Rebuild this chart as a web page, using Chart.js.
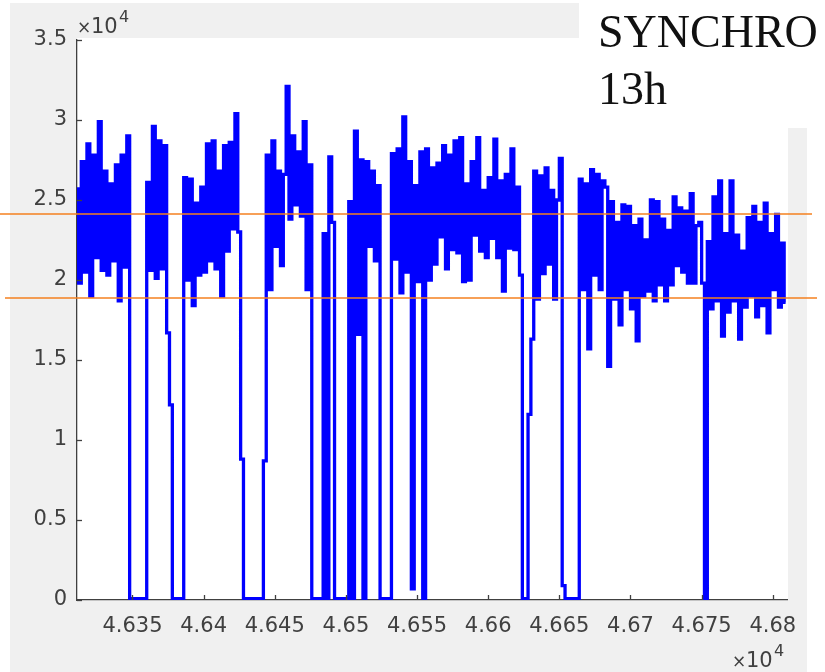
<!DOCTYPE html>
<html lang="fr">

<head>
  <meta charset="UTF-8">
  <title>SYNCHRO 13h</title>
  <style>
    body { margin: 0; background: #ffffff; overflow: hidden; }
    #box { position: relative; width: 825px; height: 672px; }
    #grafico { position: absolute; left: 0; top: 0; }
    #nota {
      position: absolute; left: 598px; top: 3px;
      font-family: "Liberation Serif", "DejaVu Serif", serif;
      font-size: 46px; line-height: 57px; color: #111111; white-space: nowrap;
    }
  </style>
</head>

<body>
  <div id="box">
    <canvas id="grafico" width="825" height="672"></canvas>
    <div id="nota">SYNCHRO<br>13h</div>
  </div>

<script src="https://cdn.jsdelivr.net/npm/chart.js"></script>

<script>

// amostras: x = inicio + i * passo
const inicio = 46311;
const passo = 2;

const trechoA = [25700, 19800, 27400, 20500, 28500, 19000, 27800, 21400, 29900, 20600,
  26800, 20300, 26000, 21200, 27200, 18700, 27800, 20800, 29000, 80,
  80, 80, 80, 80, 80, 26100, 20600, 29600, 20100, 28700,
  20700, 28400, 16700, 12200, 80, 80, 80, 80, 26400, 20000,
  26300, 18400, 24800, 20300, 25800, 20500, 28500, 21200, 28700, 20700];

const trechoB = [26800, 19000, 28400, 21800, 28600, 23200, 30400, 23000, 8800, 80,
  80, 80, 80, 80, 80, 80, 8700, 27800, 19400, 28700,
  22100, 26800, 20900, 26600, 32100, 23800, 29000, 24700, 28000, 24000,
  29900, 19400, 27200, 80, 80, 80, 80, 22900, 80, 27700,
  23600, 80, 80, 80, 80, 80, 24900, 80, 29300, 16600];

const trechoC = [27500, 80, 27400, 22100, 26800, 21200, 25900, 80, 80, 80,
  80, 27900, 21300, 28200, 19200, 30200, 20500, 27400, 700, 25900,
  19900, 28000, 80, 28200, 20000, 27000, 21000, 27300, 22700, 28400,
  20700, 27800, 21900, 28700, 21700, 28900, 19900, 26000, 20000, 27400,
  22800, 28900, 21800, 25600, 21400, 26400, 22600, 28800, 21400, 26200];

const trechoD = [19300, 26600, 22000, 28200, 21900, 25800, 20300, 80, 80, 11600,
  16300, 26800, 18800, 26500, 20400, 27000, 21000, 25600, 18800, 25000,
  27600, 900, 80, 80, 80, 80, 80, 26300, 19400, 26000,
  15700, 26900, 20300, 26600, 19400, 26200, 25800, 14600, 24900, 18800,
  23600, 17200, 24700, 19400, 24600, 18200, 23400, 16200, 23800, 19000];

const trechoE = [22500, 19300, 25000, 18700, 24900, 19700, 23800, 18700, 23100, 19700,
  25200, 20900, 24500, 20500, 24300, 19800, 25400, 19800, 23400, 23600,
  19800, 0, 22400, 18200, 25200, 18700, 26200, 16500, 22900, 18000,
  26200, 18700, 22800, 16300, 21800, 18300, 23900, 19000, 24600, 17700,
  23600, 18400, 24800, 16700, 22900, 19400, 24100, 18300, 22300, 18600];

const xTicks = [46350, 46400, 46450, 46500, 46550, 46600, 46650, 46700, 46750, 46800];
const xLabels = ['4.635', '4.64', '4.645', '4.65', '4.655', '4.66', '4.665', '4.67', '4.675', '4.68'];
const yTicks = [0, 5000, 10000, 15000, 20000, 25000, 30000, 35000];
const yLabels = ['0', '0.5', '1', '1.5', '2', '2.5', '3', '3.5'];

// linhas laranja
const limites = [24125, 18875];

const sinal = trechoA.concat(trechoB, trechoC, trechoD, trechoE);
const pontos = sinal.map(function (v, i) { return { x: inicio + i * passo, y: v }; });

const corEixo = '#404040';
const fonteEixo = { family: 'DejaVu Sans', size: 21 };

// escreve x10^4 (vezes menor, expoente em cima)
function expoente(c, x, y) {
  c.font = '17px "DejaVu Sans"';
  c.fillText('\u00d7', x, y);
  c.font = '21px "DejaVu Sans"';
  c.fillText('10', x + 14, y);
  c.font = '16px "DejaVu Sans"';
  c.fillText('4', x + 42, y - 11);
}

// fundo cinza estilo matlab
const fundo = {
  id: 'fundo',
  beforeDraw(chart) {
    const c = chart.ctx, a = chart.chartArea;
    c.save();
    c.fillStyle = '#ffffff';
    c.fillRect(0, 0, chart.width, chart.height);
    c.fillStyle = '#f0f0f0';
    c.fillRect(10, 3, 797, 669);
    c.fillStyle = '#ffffff';
    c.fillRect(a.left, a.top - 2, a.right - a.left + 1, a.bottom - a.top + 2);
    c.fillRect(579, 0, 246, 128);
    c.restore();
  },
  afterDatasetsDraw(chart) {
    const c = chart.ctx, a = chart.chartArea;
    const sx = chart.scales.x, sy = chart.scales.y;
    c.save();
    // ticks para dentro
    c.strokeStyle = corEixo;
    c.lineWidth = 1.3;
    xTicks.forEach(function (v) {
      const px = Math.round(sx.getPixelForValue(v)) + 0.5;
      c.beginPath(); c.moveTo(px, a.bottom); c.lineTo(px, a.bottom - 5); c.stroke();
    });
    yTicks.forEach(function (v) {
      const py = Math.round(sy.getPixelForValue(v)) + 0.5;
      c.beginPath(); c.moveTo(a.left, py); c.lineTo(a.left + 5, py); c.stroke();
    });
    c.strokeStyle = '#f5801f';
    c.lineWidth = 1.6;
    limites.forEach(function (v, k) {
      const py = sy.getPixelForValue(v);
      c.beginPath();
      c.moveTo(k === 0 ? 0 : 5, py);
      c.lineTo(k === 0 ? 812 : 817, py);
      c.stroke();
    });
    c.restore();
  },
  afterDraw(chart) {
    const c = chart.ctx;
    c.save();
    c.fillStyle = corEixo;
    c.textBaseline = 'alphabetic';
    c.textAlign = 'left';
    expoente(c, 77, 33);
    expoente(c, 732, 667);
    c.restore();
  }
};

const ctx = document.getElementById('grafico');
new Chart(ctx, {
  type: 'line',
  data: {
    datasets: [{
      data: pontos,
      borderColor: '#0000ff',
      borderWidth: 3.3,
      pointRadius: 0,
      stepped: 'middle',
      borderJoinStyle: 'miter',
      fill: false
    }]
  },
  options: {
    responsive: false,
    devicePixelRatio: 1,
    animation: false,
    layout: { padding: { left: 0, right: 38, top: 40, bottom: 0 } },
    plugins: {
      legend: { display: false },
      tooltip: { enabled: false }
    },
    scales: {
      x: {
        type: 'linear',
        min: 46311,
        max: 46810,
        grid: { display: false, drawTicks: false },
        border: { display: true, color: corEixo, width: 1.3 },
        ticks: {
          color: corEixo,
          font: fonteEixo,
          padding: 14,
          maxRotation: 0,
          autoSkip: false,
          callback: function (v) {
            const k = xTicks.indexOf(v);
            return k >= 0 ? xLabels[k] : '';
          }
        },
        afterBuildTicks: function (axis) {
          axis.ticks = xTicks.map(function (v) { return { value: v }; });
        },
        afterFit: function (axis) { axis.height = 72; }
      },
      y: {
        min: 0,
        max: 35000,
        grid: { display: false, drawTicks: false },
        border: { display: true, color: corEixo, width: 1.3 },
        ticks: {
          color: corEixo,
          font: fonteEixo,
          padding: 10,
          callback: function (v) {
            const k = yTicks.indexOf(v);
            return k >= 0 ? yLabels[k] : '';
          }
        },
        afterBuildTicks: function (axis) {
          axis.ticks = yTicks.map(function (v) { return { value: v }; });
        },
        afterFit: function (axis) { axis.width = 77; }
      }
    }
  },
  plugins: [fundo]
});

</script>
</body>

</html>
